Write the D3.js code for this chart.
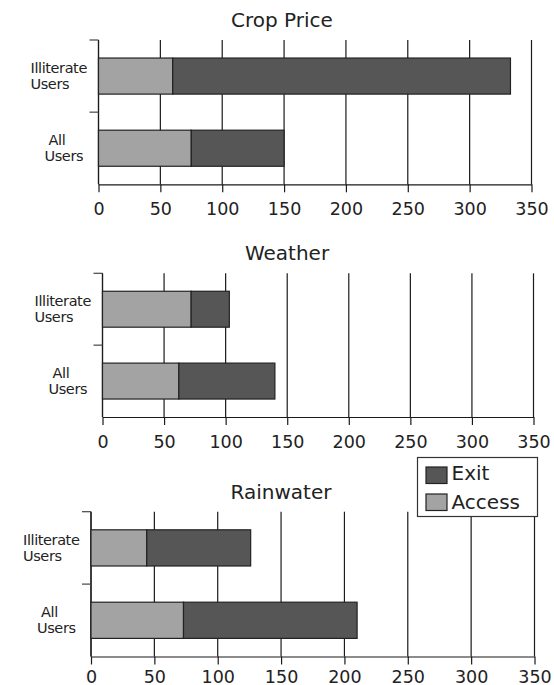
<!DOCTYPE html>
<html>
<head>
<meta charset="utf-8">
<script src="https://cdn.jsdelivr.net/npm/d3@7"></script>
<style>
  html, body { margin: 0; padding: 0; background: #fff; }
  svg { display: block; font-family: "DejaVu Sans", sans-serif; }
</style>
</head>
<body>
<script>
// ---------- data ----------
const panelTitles = ["Crop Price", "Weather", "Rainwater"];
const categories = ["Illiterate Users", "All Users"];
const seriesNames = ["Access", "Exit"];
// Access (light) and Exit (dark) per panel, per category
const accessCropPrice = [60, 75];
const exitCropPrice   = [273, 75];
const accessWeather   = [72, 62];
const exitWeather     = [31, 78];
const accessRainwater = [44, 73];
const exitRainwater   = [82, 137];
const tickValues = [0, 50, 100, 150, 200, 250, 300, 350];

const accessByPanel = [accessCropPrice, accessWeather, accessRainwater];
const exitByPanel = [exitCropPrice, exitWeather, exitRainwater];

// ---------- layout ----------
const W = 554, H = 685;
const layout = [
  { top: 40,    axisY: 184.3, x0: 98.5,  x1: 531.5, titleX: 282, labelDy: 31 },
  { top: 273.3, axisY: 417,   x0: 102.5, x1: 533.5, titleX: 287, labelDy: 31 },
  { top: 511.7, axisY: 656.5, x0: 91,    x1: 534.5, titleX: 281, labelDy: 26 }
];
const colors = { Access: "#a3a3a3", Exit: "#565656" };
const lineColor = "#1a1a1a";
const textColor = "#222";

const svg = d3.select("body").append("svg")
  .attr("width", W).attr("height", H);
svg.append("rect").attr("width", W).attr("height", H).attr("fill", "#fff");

panelTitles.forEach((title, p) => {
  const L = layout[p];
  const g = svg.append("g");
  const x = d3.scaleLinear().domain([0, 350]).range([L.x0, L.x1]);
  const y = d3.scaleBand().domain(categories).range([L.top, L.axisY])
    .paddingInner(0.5).paddingOuter(0.25);

  // title
  g.append("text")
    .attr("x", L.titleX).attr("y", L.top - 13)
    .attr("text-anchor", "middle")
    .attr("font-size", 20).attr("fill", textColor)
    .text(title);

  // vertical gridlines
  g.append("g").selectAll("line").data(tickValues).join("line")
    .attr("x1", d => x(d)).attr("x2", d => x(d))
    .attr("y1", L.top).attr("y2", L.axisY)
    .attr("stroke", lineColor).attr("stroke-width", 1.2);

  // x axis
  const ax = g.append("g")
    .attr("transform", `translate(0,${L.axisY})`)
    .call(d3.axisBottom(x).tickValues(tickValues).tickSize(8).tickSizeOuter(0));
  ax.select(".domain").attr("stroke", lineColor).attr("stroke-width", 1.2);
  ax.selectAll(".tick line").attr("stroke", lineColor).attr("stroke-width", 1.2);
  ax.selectAll(".tick text")
    .attr("y", L.labelDy).attr("dy", 0)
    .attr("font-family", "DejaVu Sans, sans-serif")
    .attr("font-size", 17.5).attr("fill", textColor);

  // left axis: line + ticks at band starts
  g.append("line")
    .attr("x1", L.x0).attr("x2", L.x0)
    .attr("y1", L.top).attr("y2", L.axisY)
    .attr("stroke", lineColor).attr("stroke-width", 1.2);
  g.append("g").selectAll("line").data(categories).join("line")
    .attr("x1", L.x0 - 9).attr("x2", L.x0)
    .attr("y1", d => y(d) - y.step() * 0.25)
    .attr("y2", d => y(d) - y.step() * 0.25)
    .attr("stroke", "#444").attr("stroke-width", 1.2);

  // stacked bars
  const rows = categories.map((c, i) => ({
    cat: c, Access: accessByPanel[p][i], Exit: exitByPanel[p][i]
  }));
  const stacked = d3.stack().keys(seriesNames)(rows);
  g.append("g").selectAll("g").data(stacked).join("g")
    .attr("fill", s => colors[s.key])
    .selectAll("rect").data(s => s).join("rect")
    .attr("x", d => x(d[0]))
    .attr("width", d => x(d[1]) - x(d[0]))
    .attr("y", d => y(d.data.cat))
    .attr("height", y.bandwidth())
    .attr("stroke", "#222").attr("stroke-width", 1.2);

  // category labels (two lines)
  const lineOffsets = { "Illiterate Users": [-68, -68], "All Users": [-50, -54] };
  categories.forEach(c => {
    const words = c.split(" ");
    const cy = y(c) + y.bandwidth() / 2;
    words.forEach((w, k) => {
      g.append("text")
        .attr("x", L.x0 + lineOffsets[c][k])
        .attr("y", cy - 3 + k * 16)
        .attr("font-size", 14.5).attr("letter-spacing", -0.4)
        .attr("fill", textColor)
        .text(w);
    });
  });
});

// legend
const lg = svg.append("g");
lg.append("rect")
  .attr("x", 417.5).attr("y", 457.5).attr("width", 120).attr("height", 59)
  .attr("fill", "#fff").attr("stroke", "#333").attr("stroke-width", 1.2);
const legendItems = ["Exit", "Access"];
lg.selectAll("g.item").data(legendItems).join("g")
  .attr("class", "item")
  .each(function (d, i) {
    const it = d3.select(this);
    it.append("rect")
      .attr("x", 426).attr("y", 467 + i * 27)
      .attr("width", 21).attr("height", 16.5)
      .attr("fill", colors[d]).attr("stroke", "#222").attr("stroke-width", 1.2);
    it.append("text")
      .attr("x", 451.5).attr("y", 479.5 + i * 29)
      .attr("font-size", 20).attr("fill", textColor)
      .text(d);
  });
</script>
</body>
</html>
